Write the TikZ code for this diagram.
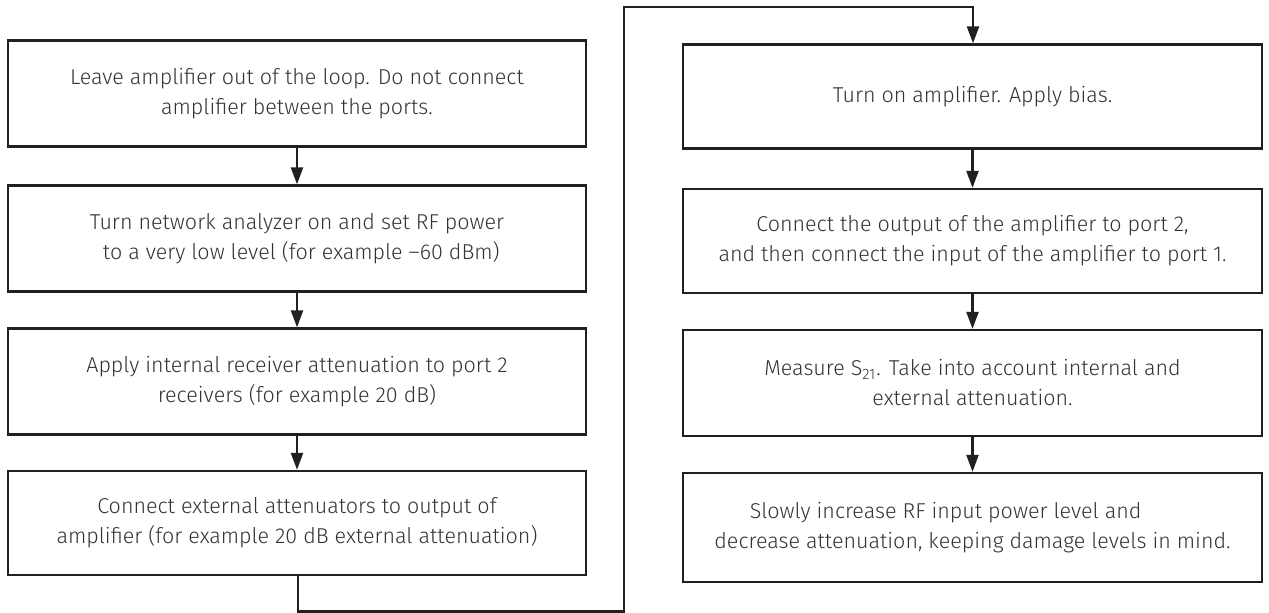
\documentclass[tikz,border=0pt]{standalone}
\usepackage{fontspec}
\setmainfont{Fira Sans}[UprightFont=* Light]
\usetikzlibrary{arrows.meta}
\definecolor{linec}{HTML}{231F20}
\definecolor{textc}{HTML}{333333}
\tikzset{
  box/.style={draw=linec, line width=1.15pt, rectangle, inner sep=0pt,
    minimum width=289pt, minimum height=53pt, align=center,
    text=textc, font=\fontsize{10.75}{15}\selectfont},
  flow/.style={draw=linec, line width=1.15pt,
    -{Triangle[length=8.5pt,width=6pt]}}
}
\begin{document}
\begin{tikzpicture}[x=0.5pt,y=-0.5pt]
\useasboundingbox (0,0) rectangle (1269,613);
% left column
\node[box] (b1) at (297,93.5) {Leave amplifier out of the loop. Do not connect\\amplifier between the ports.};
\node[box] (b2) at (297,238.5) {Turn network analyzer on and set RF power\\\hspace*{0.4em}to a very low level (for example {\textendash}60 dBm)};
\node[box] (b3) at (297,381.5) {Apply internal receiver attenuation to port 2\\receivers (for example 20 dB)};
\node[box, minimum height=52pt] (b4) at (297,523) {Connect external attenuators to output of\\amplifier (for example 20 dB external attenuation)};
% right column
\node[box, minimum width=289.5pt, minimum height=52pt] (r1) at (972.5,96.5) {Turn on amplifier. Apply bias.};
\node[box, minimum width=289.5pt, minimum height=52pt] (r2) at (972.5,241) {Connect the output of the amplifier to port 2,\\and then connect the input of the amplifier to port 1.};
\node[box, minimum width=289.5pt, minimum height=53pt] (r3) at (972.5,383) {Measure S\textsubscript{21}. Take into account internal and\\external attenuation.};
\node[box, minimum width=289.5pt, minimum height=54.5pt] (r4) at (972.5,527.5) {Slowly increase RF input power level and\hspace*{2.5em}\\decrease attenuation, keeping damage levels in mind.};
% connectors
\draw[flow] (b1) -- (b2);
\draw[flow] (b2) -- (b3);
\draw[flow] (b3) -- (b4);
\coordinate (c1) at (298,611.5);
\coordinate (c2) at (624,611.5);
\coordinate (c3) at (624,7);
\coordinate (c4) at (973,7);
\draw[flow] (b4.south -| c1) -- (c1) -- (c2) -- (c3) -- (c4) -- (r1.north -| c4);
\draw[flow] (r1) -- (r2);
\draw[flow] (r2) -- (r3);
\draw[flow] (r3) -- (r4);
\end{tikzpicture}
\end{document}
